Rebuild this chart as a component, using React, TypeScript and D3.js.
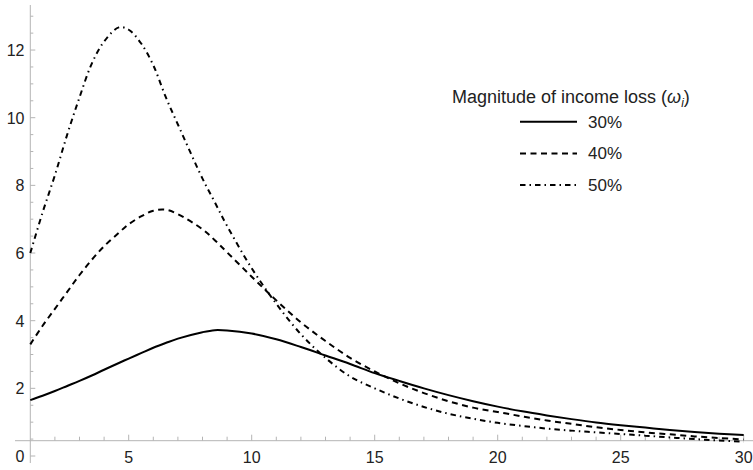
import React, { useEffect, useRef } from "react";
import * as d3 from "d3";

const xs = [1, 1.5, 2, 2.5, 3, 3.5, 4, 4.6, 5, 5.5, 6, 6.5, 7, 8, 8.5, 9, 10, 11, 12, 13, 14, 15, 16, 17, 18, 19, 20, 21, 22, 23, 24, 25, 26, 27, 28, 29, 30];

const loss30 = [1.65, 1.78, 1.92, 2.07, 2.22, 2.38, 2.55, 2.75, 2.88, 3.04, 3.2, 3.34, 3.47, 3.66, 3.72, 3.71, 3.62, 3.45, 3.22, 2.97, 2.72, 2.45, 2.22, 2.0, 1.8, 1.62, 1.46, 1.32, 1.2, 1.09, 0.99, 0.91, 0.84, 0.77, 0.71, 0.66, 0.62];
const loss40 = [3.3, 3.85, 4.35, 4.85, 5.35, 5.8, 6.2, 6.6, 6.85, 7.08, 7.25, 7.28, 7.15, 6.7, 6.38, 6.02, 5.3, 4.6, 3.95, 3.4, 2.9, 2.5, 2.15, 1.86, 1.62, 1.43, 1.3, 1.17, 1.05, 0.95, 0.85, 0.77, 0.7, 0.64, 0.58, 0.53, 0.49];
const loss50 = [6.0, 7.2, 8.3, 9.5, 10.6, 11.6, 12.25, 12.67, 12.6, 12.2, 11.55, 10.62, 9.8, 8.2, 7.5, 6.8, 5.55, 4.5, 3.6, 2.9, 2.35, 2.0, 1.7, 1.45, 1.25, 1.1, 0.98, 0.89, 0.81, 0.75, 0.7, 0.65, 0.6, 0.55, 0.5, 0.46, 0.42];

const seriesLabels = ["30%", "40%", "50%"];
const dashes = ["none", "6,4.5", "5.5,4,1.5,4"];
const xTickLabels = [5, 10, 15, 20, 25, 30];
const yTickLabels = [0, 2, 4, 6, 8, 10, 12];

export default function App() {
  const svgRef = useRef<SVGSVGElement>(null);
  const width = 753;
  const height = 470;

  useEffect(() => {
    const svg = d3.select(svgRef.current);
    svg.selectAll("*").remove();

    const x = d3.scaleLinear().domain([0, 30]).range([5.7, 743.7]);
    const y = d3.scaleLinear().domain([0, 13]).range([456, 456 - 13 * 33.83]);
    const axisColor = "#b4b4b4";
    const textColor = "#222";
    const font = "'Liberation Sans', Arial, sans-serif";
    const xAxisY = 440.7;

    // x axis
    const gx = svg.append("g");
    gx.append("line")
      .attr("x1", 15).attr("x2", width).attr("y1", xAxisY).attr("y2", xAxisY)
      .attr("stroke", axisColor);
    gx.selectAll(".xt")
      .data(d3.range(2, 31))
      .join("line")
      .attr("x1", (d) => x(d)).attr("x2", (d) => x(d))
      .attr("y1", xAxisY)
      .attr("y2", (d) => xAxisY - (d % 5 === 0 ? 6 : 4))
      .attr("stroke", axisColor);
    gx.selectAll(".xl")
      .data(xTickLabels)
      .join("text")
      .attr("x", (d) => x(d))
      .attr("y", 463)
      .attr("text-anchor", "middle")
      .attr("font-family", font)
      .attr("font-size", 16)
      .attr("fill", textColor)
      .text((d) => d);

    // y axis
    const gy = svg.append("g");
    gy.append("line")
      .attr("x1", x(1)).attr("x2", x(1)).attr("y1", 5).attr("y2", 463)
      .attr("stroke", axisColor);
    gy.selectAll(".yt")
      .data(d3.range(0, 13.01, 0.5))
      .join("line")
      .attr("x1", x(1))
      .attr("x2", (d) => x(1) + (d % 2 === 0 ? 5 : 3))
      .attr("y1", (d) => y(d)).attr("y2", (d) => y(d))
      .attr("stroke", axisColor);
    gy.selectAll(".yl")
      .data(yTickLabels)
      .join("text")
      .attr("x", 24.5)
      .attr("y", (d) => y(d) + 6)
      .attr("text-anchor", "end")
      .attr("font-family", font)
      .attr("font-size", 16)
      .attr("fill", textColor)
      .text((d) => d);

    // curves
    const line = d3
      .line<number>()
      .x((d, i) => x(xs[i]))
      .y((d) => y(d))
      .curve(d3.curveCatmullRom.alpha(0.5));

    [loss30, loss40, loss50].forEach((s, k) => {
      svg.append("path")
        .attr("d", line(s))
        .attr("fill", "none")
        .attr("stroke", "#000")
        .attr("stroke-width", 2)
        .attr("stroke-dasharray", dashes[k]);
    });

    // legend
    const lg = svg.append("g").attr("font-family", font).attr("font-size", 16).attr("fill", textColor);
    const title = lg.append("text").attr("x", 452).attr("y", 103).attr("font-size", 18);
    title.append("tspan").text("Magnitude of income loss (");
    title.append("tspan").attr("font-style", "italic").text("ω");
    title.append("tspan").attr("font-style", "italic").attr("font-size", 12).attr("dy", 4).text("i");
    title.append("tspan").attr("dy", -4).text(")");

    seriesLabels.forEach((lab, k) => {
      const cy = 121.7 + k * 31.7;
      lg.append("line")
        .attr("x1", 520).attr("x2", 577).attr("y1", cy).attr("y2", cy)
        .attr("stroke", "#000").attr("stroke-width", 2)
        .attr("stroke-dasharray", dashes[k]);
      lg.append("text").attr("x", 588).attr("y", cy + 6).attr("font-size", 17).text(lab);
    });
  }, []);

  return (
    <svg
      ref={svgRef}
      width={width}
      height={height}
      style={{ position: "absolute", left: 0, top: 0, background: "#fff" }}
    />
  );
}
